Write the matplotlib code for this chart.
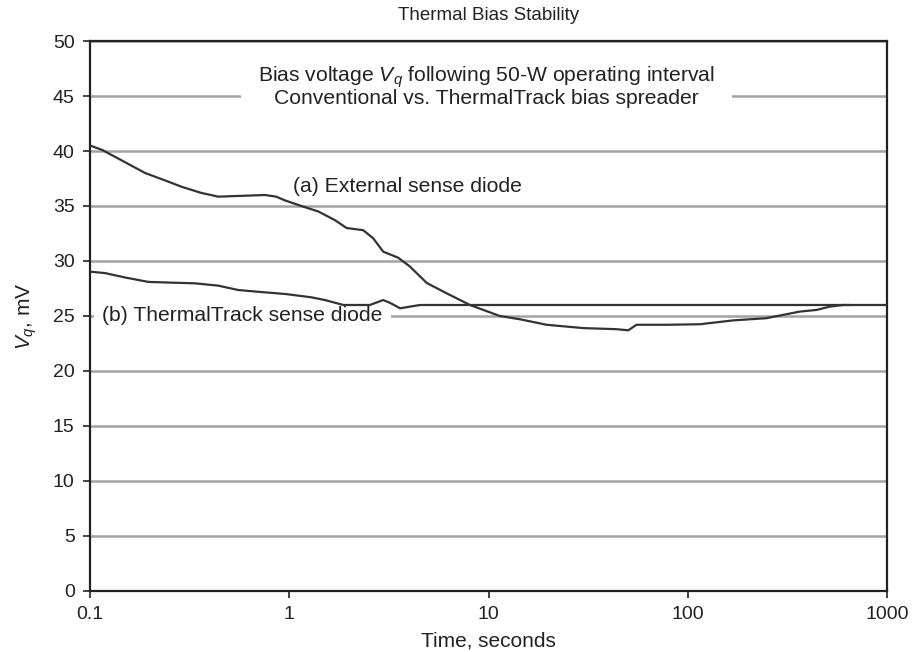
import matplotlib
matplotlib.use("Agg")
import matplotlib.pyplot as plt
from matplotlib.ticker import FixedLocator, FixedFormatter, NullLocator

plt.rcParams['font.family'] = ['Liberation Sans', 'DejaVu Sans']
plt.rcParams['mathtext.fontset'] = 'custom'
plt.rcParams['mathtext.it'] = 'Liberation Sans:italic'
plt.rcParams['mathtext.rm'] = 'Liberation Sans'

# (a) external sense diode
t_a = [0.1, 0.115, 0.139, 0.189, 0.24, 0.288, 0.36, 0.44, 0.53, 0.755, 0.86,
       0.955, 1.15, 1.4, 1.7, 1.94, 2.35, 2.64, 2.96, 3.52, 4.03, 4.9, 6.17,
       8.07, 11.4, 14.4, 19.6, 29.9, 43.9, 50.3, 55.3, 78, 115, 169, 248, 365,
       443, 516, 602, 650]
v_a = [40.5, 40.1, 39.3, 38.0, 37.3, 36.75, 36.2, 35.85, 35.9, 36.0, 35.85,
       35.5, 35.0, 34.5, 33.7, 33.0, 32.8, 32.06, 30.85, 30.3, 29.5, 28.0, 27.06,
       26.0, 25.0, 24.7, 24.2, 23.9, 23.8, 23.7, 24.2, 24.2, 24.25, 24.6, 24.8,
       25.4, 25.55, 25.85, 26.0, 26.0]

# (b) ThermalTrack sense diode
t_b = [0.1, 0.119, 0.15, 0.196, 0.257, 0.336, 0.44, 0.555, 0.70, 0.955, 1.29,
       1.51, 1.87, 2.54, 2.96, 3.2, 3.6, 4.53, 10, 100, 1000]
v_b = [29.03, 28.9, 28.5, 28.1, 28.03, 27.97, 27.76, 27.36, 27.2, 27.0, 26.7,
       26.45, 26.0, 26.0, 26.45, 26.2, 25.7, 26.0, 26.0, 26.0, 26.0]

x_ticks = [0.1, 1, 10, 100, 1000]
x_labels = ["0.1", "1", "10", "100", "1000"]
y_ticks = list(range(0, 51, 5))

fig = plt.figure(figsize=(9.13, 6.52), dpi=100)
ax = fig.add_axes([0.0986, 0.0936, 0.8729, 0.8435])

line_col = "#333333"
ax.plot(t_a, v_a, color=line_col, lw=1.6, zorder=5)
ax.plot(t_b, v_b, color=line_col, lw=1.6, zorder=5)

ax.set_xscale("log")
ax.set_xlim(0.1, 1000)
ax.set_ylim(0, 50)
ax.xaxis.set_major_locator(FixedLocator(x_ticks))
ax.xaxis.set_major_formatter(FixedFormatter(x_labels))
ax.xaxis.set_minor_locator(NullLocator())
ax.set_yticks(y_ticks)

ax.yaxis.grid(True, color="#a3a3a3", lw=1.8)
ax.set_axisbelow(True)
ax.tick_params(axis="both", direction="out", length=5, width=1.2, pad=6,
               labelsize=14, colors="#222222")

for side in ["left", "bottom", "top", "right"]:
    ax.spines[side].set_color("#222222")
    ax.spines[side].set_linewidth(1.6)

txt = "#222222"
ax.set_title("Thermal Bias Stability", fontsize=13.5, pad=15, color=txt)
ax.set_xlabel("Time, seconds", fontsize=15, color=txt, labelpad=6)
ax.set_ylabel("$V_q$, mV", fontsize=15, color=txt, labelpad=10)

ax.text(0.4975, 0.918,
        "Bias voltage $V_q$ following 50-W operating interval\n"
        "Conventional vs. ThermalTrack bias spreader",
        transform=ax.transAxes, ha="center", va="center", fontsize=15.2,
        linespacing=0.95, color=txt, zorder=3,
        bbox=dict(facecolor="white", edgecolor="none", pad=12))
ax.text(0.2547, 0.736, "(a) External sense diode", transform=ax.transAxes,
        ha="left", va="center", fontsize=15.2, color=txt, zorder=3)
ax.text(0.015, 0.5, "(b) ThermalTrack sense diode", transform=ax.transAxes,
        ha="left", va="center", fontsize=15.2, color=txt, zorder=3,
        bbox=dict(facecolor="white", edgecolor="none", pad=6))

fig.savefig("out.png", dpi=100)
